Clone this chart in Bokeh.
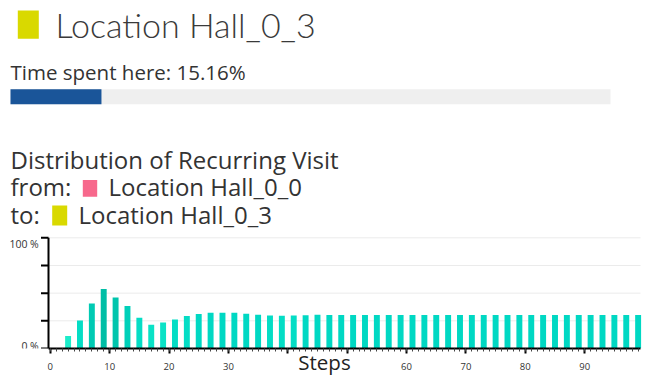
from bokeh.plotting import figure
from bokeh.models import Range1d, SingleIntervalTicker, LinearAxis, ColumnDataSource
from bokeh.transform import linear_cmap
from bokeh.core.properties import value
from bokeh.embed import file_html
from bokeh.resources import INLINE

# ---------------- data ----------------
location_name = "Location Hall_0_3"
from_name = "Location Hall_0_0"
to_name = "Location Hall_0_3"
time_spent_pct = 15.16

steps = list(range(3, 100, 2))
recurring_pct = [
    11.4, 25.3, 40.7, 53.7, 46.1, 38.3, 27.7, 21.4, 23.5, 26.2,
    29.3, 31.1, 32.2, 32.2, 32.2, 31.3, 30.4, 29.8, 29.5, 29.8,
    30.1, 30.4,
    30.3, 30.3, 30.3, 30.3, 30.3, 30.3, 30.3, 30.3, 30.3, 30.3,
    30.3, 30.3, 30.3, 30.3, 30.3, 30.3, 30.3, 30.3, 30.3, 30.3,
    30.3, 30.3, 30.3, 30.3, 30.3, 30.3, 30.3,
]
x_tick_labels = {0: "0", 10: "10", 20: "20", 30: "30", 40: "", 50: "",
                 60: "60", 70: "70", 80: "80", 90: "90"}
y_ticks = [0, 25, 50, 75, 100]
y_grid = [25, 50, 75, 100]
y_tick_labels = ["100 %", "0 %"]
y_tick_label_vals = [100, 0]
bar_palette = ["#1cecca", "#12e6c8", "#0ae2c6", "#04ddc5", "#00d8c3",
               "#00d0b9", "#00cab3", "#00c5ad", "#00bea6"]

# ---------------- style ----------------
yellow = "#d9d900"
pink = "#f7688c"
blue = "#1a5599"
track = "#efefef"
txt = "#333333"
FONT = "Open Sans"

W, H = 648, 378
AXIS_Y = 349                    # canvas y of the x axis (frame bottom)
FRAME_B = H - AXIS_Y
FH = AXIS_Y
CH_L, CH_R, CH_T = 48, 640, 238  # chart area in canvas pixels
X0, X1 = -0.3, 99.4             # visible step range of the chart
s = (CH_R - CH_L) / (X1 - X0)   # px per step
py = (FH - CH_T) / 100.0        # px per percent

p = figure(width=W, height=H, x_range=Range1d(0, W), y_range=Range1d(FH, 0),
           output_backend="svg", toolbar_location=None,
           x_axis_location=None, y_axis_location=None,
           min_border_left=0, min_border_right=0, min_border_top=0,
           min_border_bottom=FRAME_B)
p.grid.visible = False
p.outline_line_color = None
p.extra_x_ranges = {"chart": Range1d(X0 - CH_L / s, X1 + (W - CH_R) / s)}
p.extra_y_ranges = {"chart": Range1d(0, FH / py)}

# ---------------- header (canvas-pixel coordinates) ----------------
def label(x, y, text, size, font=FONT, color=txt):
    p.text(x=[x], y=[y], text=[text], text_font=value(font), text_font_size=size,
           text_color=color, text_baseline="alphabetic", text_align="left")

p.quad(left=[17.3], right=[38.3], top=[10], bottom=[38.3], fill_color=yellow, line_color=None)
label(55, 24, location_name, "34px", font="Lato Light", color="#3a3a3a")
label(10, 72, f"Time spent here: {time_spent_pct:.2f}%", "20.5px")
p.quad(left=[10], right=[610], top=[89], bottom=[104], fill_color=track, line_color=None)
p.quad(left=[10], right=[10 + 600 * time_spent_pct / 100], top=[89], bottom=[104],
       fill_color=blue, line_color=None)

label(10, 159, "Distribution of Recurring Visit", "24px")
label(10, 187, "from:", "24px")
p.quad(left=[82.3], right=[96.7], top=[180], bottom=[196.7], fill_color=pink, line_color=None)
label(108, 187, from_name, "24px")
label(10, 214.7, "to:", "24px")
p.quad(left=[51.7], right=[66.7], top=[205.7], bottom=[225.7], fill_color=yellow, line_color=None)
label(78, 214.7, to_name, "24px")

# ---------------- chart ----------------
CR = dict(x_range_name="chart", y_range_name="chart")
p.segment(x0=[X0] * len(y_grid), x1=[X1] * len(y_grid), y0=y_grid, y1=y_grid,
          line_color="#ebebeb", line_width=1, **CR)

src = ColumnDataSource(dict(step=steps, value=recurring_pct))
p.vbar(x="step", top="value", width=1.0, source=src, line_color=None,
       fill_color=linear_cmap("value", bar_palette, 10, 55), **CR)

# y axis (line, ticks, labels) drawn with the chart scale
p.segment(x0=[X0], x1=[X0], y0=[min(y_ticks)], y1=[max(y_ticks)],
          line_color="black", line_width=2, **CR)
p.segment(x0=[X0] * len(y_ticks), x1=[X0 - 7.5 / s] * len(y_ticks), y0=y_ticks, y1=y_ticks,
          line_color="black", line_width=2, **CR)
p.text(x=[X0 - 9.7 / s] * 2,
       y=[y_tick_label_vals[0] - 6.5 / py, y_tick_label_vals[1] + 3 / py],
       text=y_tick_labels, text_font=value(FONT), text_font_size="10.5px",
       text_color=txt, text_align="right", text_baseline="middle", **CR)

xa = LinearAxis(x_range_name="chart", bounds=(X0, X1),
                ticker=SingleIntervalTicker(interval=10, num_minor_ticks=10))
xa.major_label_overrides = x_tick_labels
xa.axis_line_color = "black"
xa.axis_line_width = 2
xa.major_tick_in = 0
xa.major_tick_out = 5
xa.major_tick_line_width = 2
xa.major_tick_line_color = "black"
xa.minor_tick_in = 0
xa.minor_tick_out = 3
xa.minor_tick_line_color = "#444444"
xa.minor_tick_line_width = 1
xa.major_label_text_font = FONT
xa.major_label_text_font_size = "9.5px"
xa.major_label_text_color = txt
xa.major_label_standoff = 9
xa.axis_label = "Steps"
xa.axis_label_text_font = FONT
xa.axis_label_text_font_size = "20.5px"
xa.axis_label_text_font_style = "normal"
xa.axis_label_text_color = "#222222"
xa.axis_label_standoff = -25
p.add_layout(xa, "below")

open("out.html", "w").write(file_html(p, INLINE))
